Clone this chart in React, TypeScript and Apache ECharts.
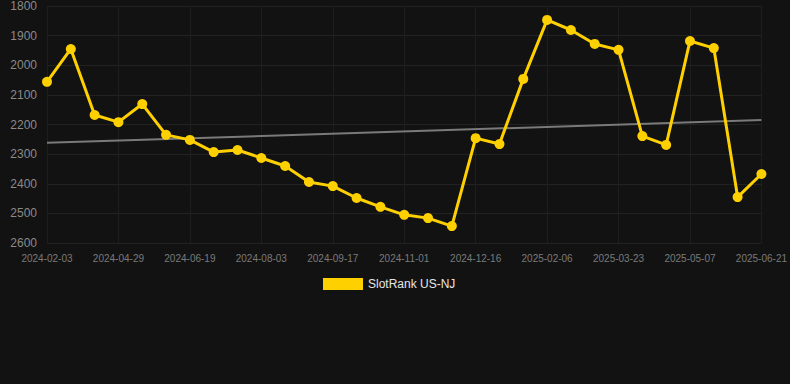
import React, { useEffect, useRef } from "react";
import * as echarts from "echarts";

const dates = [
  "2024-02-03", "2024-03-19", "2024-04-14", "2024-04-29", "2024-05-15", "2024-06-04",
  "2024-06-19", "2024-07-04", "2024-07-19", "2024-08-03", "2024-08-18", "2024-09-02",
  "2024-09-17", "2024-10-02", "2024-10-17", "2024-11-01", "2024-11-16", "2024-12-01",
  "2024-12-16", "2025-01-06", "2025-01-22", "2025-02-06", "2025-02-21", "2025-03-08",
  "2025-03-23", "2025-04-07", "2025-04-22", "2025-05-07", "2025-05-22", "2025-06-06",
  "2025-06-21",
];

const ranks = [
  2056, 1945, 2168, 2192, 2131, 2235, 2252, 2293, 2286, 2313, 2340, 2394, 2408, 2448,
  2478, 2505, 2516, 2543, 2246, 2266, 2046, 1847, 1881, 1928, 1948, 2239, 2269, 1918,
  1942, 2445, 2367,
];

const trendStart = 2262;
const trendEnd = 2185;

const seriesName = "SlotRank US-NJ";

export default function App() {
  const ref = useRef<HTMLDivElement>(null);
  useEffect(() => {
    if (!ref.current) return;
    const chart = echarts.init(ref.current, null, { renderer: "svg" });
    const trend = dates.map((_, i) =>
      i === 0 ? trendStart : i === dates.length - 1 ? trendEnd : null
    );
    chart.setOption({
      animation: false,
      backgroundColor: "#121212",
      grid: { left: 47, right: 28, top: 6, bottom: 141 },
      legend: {
        data: [seriesName],
        top: 273,
        left: 318,
        itemWidth: 40,
        itemHeight: 12,
        itemGap: 10,
        icon: "rect",
        textStyle: { color: "#e6e6e6", fontSize: 12, fontFamily: "Arial, Liberation Sans, sans-serif" },
      },
      xAxis: {
        type: "category",
        data: dates,
        boundaryGap: false,
        axisLine: { show: false },
        axisTick: { show: false },
        axisLabel: {
          interval: 2,
          color: "#7a7a7a",
          fontSize: 10,
          margin: 10,
          fontFamily: "Arial, Liberation Sans, sans-serif",
        },
        splitLine: { show: true, interval: 2, lineStyle: { color: "#1e1e1e", width: 1 } },
      },
      yAxis: {
        type: "value",
        inverse: true,
        min: 1800,
        max: 2600,
        interval: 100,
        axisLine: { show: false },
        axisTick: { show: false },
        axisLabel: {
          color: "#8a8a8a",
          fontSize: 12,
          margin: 10,
          formatter: (v: number) => String(v),
          fontFamily: "Arial, Liberation Sans, sans-serif",
        },
        splitLine: { show: true, lineStyle: { color: "#222222", width: 1 } },
      },
      series: [
        {
          name: seriesName,
          type: "line",
          data: ranks,
          symbol: "circle",
          symbolSize: 10,
          lineStyle: { color: "#FFD000", width: 3 },
          itemStyle: { color: "#FFD000" },
          z: 3,
        },
        {
          name: "trend",
          type: "line",
          data: trend,
          connectNulls: true,
          symbol: "none",
          lineStyle: { color: "#7a7a7a", width: 2 },
          z: 2,
        },
      ],
    });
    return () => chart.dispose();
  }, []);
  return (
    <div
      ref={ref}
      style={{ position: "fixed", left: 0, top: 0, width: 790, height: 384 }}
    />
  );
}
